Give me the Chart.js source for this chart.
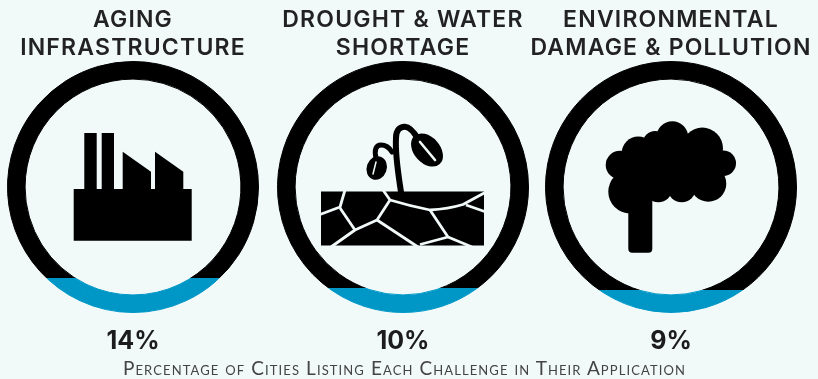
<!DOCTYPE html>
<html>
<head>
<meta charset="utf-8">
<script src="https://cdn.jsdelivr.net/npm/chart.js@4"></script>
<style>
  html, body { margin: 0; padding: 0; background: #f1f9f9; }
  #page { position: relative; width: 818px; height: 379px; overflow: hidden; background: #f1f9f9; filter: blur(0.5px); }
  #page canvas { position: absolute; top: 61px; }
  #icons { position: absolute; left: 0; top: 0; }
  .label { position: absolute; transform: translateX(-50%); white-space: nowrap; text-align: center; font-family: Inter, sans-serif; }
  .title { font-size: 23px; font-weight: 600; line-height: 28px; color: #222; top: 5px; letter-spacing: 1.2px; }
  .pct { font-size: 25px; font-weight: 700; color: #1c1c1c; top: 325px; line-height: 30px; }
  #note { left: 404.500px; top: 356px; font-family: Lato, sans-serif; font-size: 19px; line-height: 24px; font-variant: small-caps; color: #444; letter-spacing: 1.1px; }
</style>
</head>
<body>
<div id="page">
  <canvas id="ring0" width="252" height="252" style="left:7px"></canvas>
  <canvas id="ring1" width="252" height="252" style="left:277px"></canvas>
  <canvas id="ring2" width="252" height="252" style="left:545px"></canvas>

  <svg id="icons" width="818" height="379" viewBox="0 0 818 379">
    <!-- factory -->
    <path fill="#000" d="M84.3 133H96.7V189H101.7V133H114V189H122.7V151.7L151 171.7V189H155V151.7L183.3 171.7V189H191.7V240.7H73.7V189H84.3Z"/>
    <!-- plant and cracked ground -->
    <rect x="321" y="191.5" width="163" height="54" fill="#000"/>
    <g fill="none" stroke="#f1f9f9" stroke-width="2.8" stroke-linejoin="round">
      <path d="M345 190L340 207L320 214.5"/>
      <path d="M340 208L355 230"/>
      <path d="M383 190L390 200L377 220L355 230L331 247"/>
      <path d="M377 220L418 247"/>
      <path d="M390 200Q410 206 430 210Q448 209 463 204.5L486 192"/>
      <path d="M430 210L448 237L420 244.5"/>
      <path d="M448 237L472 247"/>
      <path d="M466 205L486 212"/>
    </g>
    <g fill="none" stroke="#000" stroke-linecap="round">
      <path stroke-width="6" d="M401 192C398 172 395 155 396 138C396 130 400 126.500 405 126.700C410 127 414 132 418 139"/>
      <path stroke-width="5" d="M392 152C389 147 385 145 381 145C376 145 374 150 376 158"/>
    </g>
    <ellipse cx="427" cy="150" rx="19" ry="13" transform="rotate(48 427 150)" fill="#000"/>
    <path d="M420 142L435 160" stroke="#f1f9f9" stroke-width="2.6" stroke-linecap="round"/>
    <ellipse cx="376.700" cy="168" rx="12" ry="10" transform="rotate(-70 376.700 168)" fill="#000"/>
    <path d="M376 162L373 174" stroke="#f1f9f9" stroke-width="1.5" stroke-linecap="round"/>
    <!-- tree -->
    <g fill="#000">
      <circle cx="672.300" cy="137.300" r="16"/>
      <circle cx="702.300" cy="148.300" r="20.700"/>
      <circle cx="638.300" cy="153.300" r="16.700"/>
      <circle cx="620" cy="165" r="14.300"/>
      <circle cx="723.300" cy="163.300" r="12.700"/>
      <circle cx="630" cy="191.700" r="21.700"/>
      <circle cx="708.300" cy="183.700" r="18"/>
      <circle cx="681.700" cy="188.300" r="14"/>
      <circle cx="658.300" cy="188.300" r="14"/>
      <circle cx="655" cy="143" r="12"/>
      <rect x="625" y="145" width="95" height="45"/>
      <rect x="628.300" y="185" width="24" height="67.700" rx="4"/>
    </g>
  </svg>

  <div class="label title" style="left:133px">AGING<br>INFRASTRUCTURE</div>
  <div class="label title" style="left:403px">DROUGHT &amp; WATER<br>SHORTAGE</div>
  <div class="label title" style="left:671px">ENVIRONMENTAL<br>DAMAGE &amp; POLLUTION</div>
  <div class="label pct" style="left:133px" id="pct0"></div>
  <div class="label pct" style="left:403px" id="pct1"></div>
  <div class="label pct" style="left:671px" id="pct2"></div>
  <div class="label" id="note">Percentage of Cities Listing Each Challenge in Their Application</div>
</div>

<script>
const categories = ["Aging Infrastructure", "Drought & Water Shortage", "Environmental Damage & Pollution"];
const values = [14, 10, 9];

const ringColor = "#000000";
const levelColor = "#0097c7";

// the ring reads like a gauge filled from the bottom: the blue starts at value% of its height
function levelFill(value) {
  return function (context) {
    const area = context.chart.chartArea;
    if (!area) return ringColor;
    const stop = 1 - value / 100;
    const fill = context.chart.ctx.createLinearGradient(0, area.top, 0, area.bottom);
    fill.addColorStop(0, ringColor);
    fill.addColorStop(stop, ringColor);
    fill.addColorStop(stop, levelColor);
    fill.addColorStop(1, levelColor);
    return fill;
  };
}

values.forEach(function (value, i) {
  document.getElementById("pct" + i).textContent = value + "%";

  new Chart(document.getElementById("ring" + i), {
    type: "doughnut",
    data: {
      labels: [categories[i], "Other"],
      datasets: [{
        data: [value, 100 - value],
        backgroundColor: levelFill(value),
        // same fill on the border, otherwise a hairline shows where the two arcs meet
        borderColor: levelFill(value),
        borderWidth: 1
      }]
    },
    options: {
      responsive: false,
      animation: false,
      cutout: "86%",
      rotation: 180 - value * 1.8,
      layout: { padding: 0 },
      plugins: { legend: { display: false }, tooltip: { enabled: false } }
    }
  });
});
</script>
</body>
</html>
